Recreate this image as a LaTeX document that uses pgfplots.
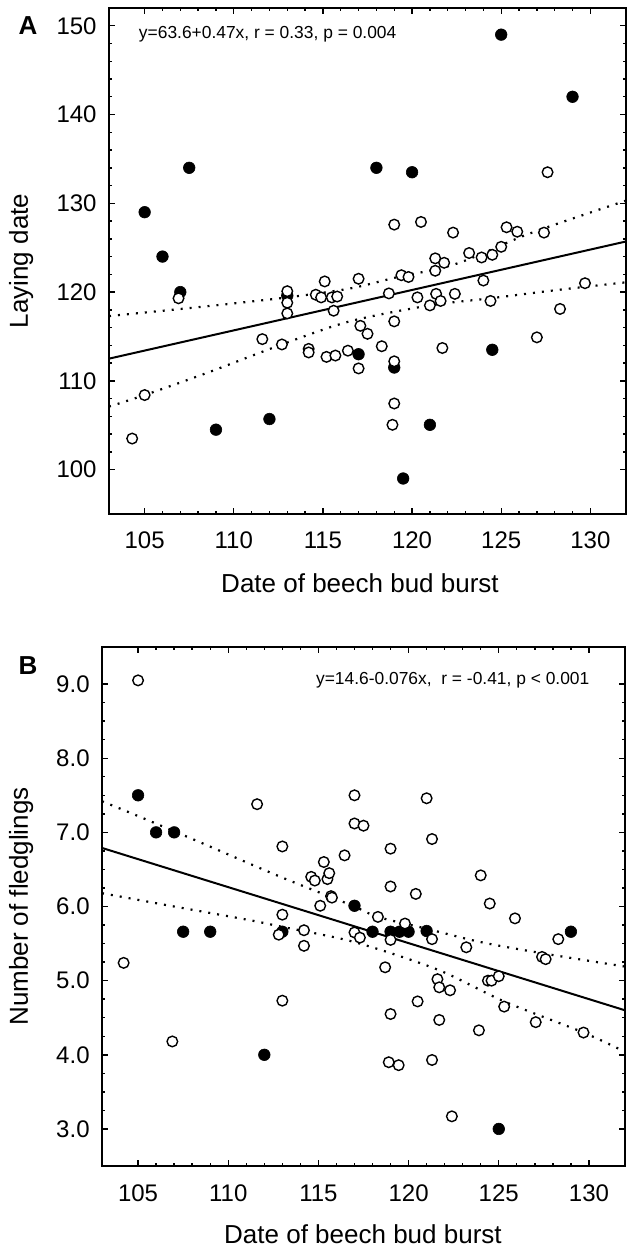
\documentclass[border=0pt]{standalone}
\usepackage{fontspec}
\setmainfont{Liberation Sans}
\usepackage{pgfplots}
\pgfplotsset{compat=1.18}

\pgfplotsset{
  budaxis/.style={
    scale only axis,
    xmin=103, xmax=132,
    xtick={105,110,...,130},
    minor x tick num=4,
    tick align=inside,
    tick pos=both,
    axis line style={line width=1.3pt},
    major tick length=3pt,
    minor tick length=1.6pt,
    tick style={black, line width=0.7pt},
    tick label style={font=\fontsize{12}{14}\selectfont},
    /pgf/number format/assume math mode=true,
    xticklabel style={anchor=base, inner sep=0pt, yshift=-17.2pt},
    yticklabel style={anchor=east, inner sep=0pt, xshift=-6pt},
    label style={font=\fontsize{13}{15}\selectfont},
  },
  filled/.style={only marks, mark=*, mark size=2.9pt,
    mark options={fill=black, draw=black, line width=0.3pt}},
  hollow/.style={only marks, mark=*, mark size=2.65pt,
    mark options={fill=white, draw=black, line width=0.7pt}},
  fit/.style={no marks, black, line width=1pt},
  band/.style={no marks, black, smooth, line width=1.1pt, dash pattern=on 1pt off 3.5pt},
}

\begin{document}
\begin{tikzpicture}
\useasboundingbox (0pt,0pt) rectangle (313.5pt,-624pt);

% ---------- panel A: laying date ----------
\begin{axis}[budaxis,
  at={(54.5pt,-257pt)}, anchor=south west,
  width=258.5pt, height=253pt,
  ymin=95, ymax=152,
  ytick={100,110,...,150},
  minor y tick num=4,
  xlabel={Date of beech bud burst},
  ylabel={Laying date},
  xlabel style={at={(axis description cs:0.4855,-0.155)}, anchor=base},
  ylabel style={at={(axis description cs:-0.157,0.5)}, anchor=base},
]
\addplot[filled] coordinates {
 (105,129) (106,124) (107.5,134) (107,120) (109,104.5) (112,105.7)
 (113,119.6) (117,113.0) (118,134) (119,111.5) (119.5,99.0) (120,133.5)
 (121,105.05) (124.5,113.5) (125,149) (129,142)
};
\addplot[hollow] coordinates {
 (104.3,103.5) (105,108.4) (106.9,119.3) (111.6,114.7) (112.7,114.1)
 (113,120.1) (113,118.8) (113,117.6) (114.2,113.6) (114.2,113.2)
 (114.6,119.7) (114.9,119.4) (115.1,121.2) (115.2,112.7) (115.5,119.4)
 (115.6,117.9) (115.8,119.5) (115.7,112.85) (116.4,113.4) (117,111.4)
 (117,121.5) (117.1,116.2) (117.5,115.3) (118.3,113.9) (118.7,119.85)
 (119,116.7) (119,112.2) (119,107.45) (118.9,105.05) (119,127.6)
 (119.4,121.9) (119.8,121.7) (120.3,119.4) (120.5,127.9) (121,118.5)
 (121.3,122.4) (121.3,123.8) (121.35,119.8) (121.6,119.0) (121.7,113.7)
 (121.8,123.3) (122.3,126.7) (122.4,119.8) (123.2,124.4) (123.9,123.9)
 (124,121.3) (124.4,119.0) (124.5,124.2) (125,125.1) (125.3,127.3)
 (125.9,126.8) (127,114.9) (127.4,126.7) (127.6,133.5) (128.3,118.1)
 (129.7,121.0)
};
\addplot[fit] coordinates {(103,112.5) (132,125.7)};
\addplot[band] coordinates {
 (103,117.3) (108,118.3) (113,119.4) (116.5,120.4) (119,121.6)
 (122.5,123.2) (126.6,126.6) (132,130.3)
};
\addplot[band] coordinates {
 (103,107.1) (105,108.4) (108.5,110.9) (112.7,114.1) (116.5,116.7)
 (121,118.5) (124.4,119.3) (128,120.2) (132,121.1)
};
\node[anchor=west, inner sep=0pt, font=\fontsize{8.7}{10}\selectfont]
  at (axis cs:104.66,149) {y=63.6+0.47x, r = 0.33, p = 0.004};
\end{axis}

% ---------- panel B: fledglings ----------
\begin{axis}[budaxis,
  at={(51pt,-583pt)}, anchor=south west,
  width=261.5pt, height=259.5pt,
  ymin=2.5, ymax=9.5,
  ytick={3,4,...,9},
  minor y tick num=3,
  yticklabel style={/pgf/number format/.cd, fixed, fixed zerofill, precision=1},
  xticklabel style={yshift=-0.6pt},
  xlabel={Date of beech bud burst},
  ylabel={Number of fledglings},
  xlabel style={at={(axis description cs:0.499,-0.149)}, anchor=base},
  ylabel style={at={(axis description cs:-0.1415,0.5)}, anchor=base},
]
\addplot[filled] coordinates {
 (105,7.5) (106,7.0) (107,7.0) (107.5,5.66) (109,5.66) (112,4.0)
 (113,5.66) (117,6.01) (118,5.66) (119,5.66) (119.5,5.66) (120,5.66)
 (121,5.67) (125,3.0) (129,5.66)
};
\addplot[hollow] coordinates {
 (104.2,5.24) (105,9.05) (106.9,4.18) (111.6,7.38) (112.8,5.62)
 (113,6.81) (113,5.89) (113,4.73) (114.2,5.68) (114.2,5.47)
 (114.6,6.40) (114.8,6.35) (115.1,6.01) (115.3,6.60) (115.5,6.37)
 (115.6,6.45) (115.7,6.14) (115.75,6.12) (116.45,6.69) (117,7.5)
 (117,7.12) (117.5,7.09) (117,5.65) (117.3,5.58) (118.3,5.86)
 (118.7,5.18) (118.9,3.90) (119,6.78) (119,6.27) (119,5.55)
 (119,4.55) (119.45,3.86) (119.8,5.77) (120.4,6.17) (120.5,4.72)
 (121,7.46) (121.3,6.91) (121.3,5.56) (121.3,3.93) (121.6,5.02)
 (121.7,4.91) (121.7,4.47) (122.3,4.87) (122.4,3.17) (123.2,5.45)
 (123.9,4.33) (124,6.42) (124.4,5.0) (124.6,5.0) (124.5,6.04)
 (125,5.06) (125.3,4.65) (125.9,5.84) (127.05,4.44) (127.4,5.32)
 (127.6,5.29) (128.3,5.56) (129.7,4.30)
};
\addplot[fit] coordinates {(103,6.79) (132,4.6)};
\addplot[band] coordinates {
 (103,7.42) (105,7.22) (108.5,6.86) (112.9,6.40) (116.8,6.02)
 (118.3,5.86) (121,5.70) (124,5.52) (127.4,5.37) (132,5.19)
};
\addplot[band] coordinates {
 (103,6.18) (107,6.0) (111.1,5.82) (112.9,5.73) (117,5.52)
 (121.6,5.15) (125.3,4.72) (129.7,4.30) (132,4.04)
};
\node[anchor=west, inner sep=0pt, font=\fontsize{8.7}{10}\selectfont]
  at (axis cs:114.85,9.05) {y=14.6-0.076x,\ \ r = -0.41, p < 0.001};
\end{axis}

\node[font=\fontsize{13}{15}\selectfont\bfseries] at (14pt,-13pt) {A};
\node[font=\fontsize{13}{15}\selectfont\bfseries] at (14pt,-333pt) {B};
\end{tikzpicture}
\end{document}
